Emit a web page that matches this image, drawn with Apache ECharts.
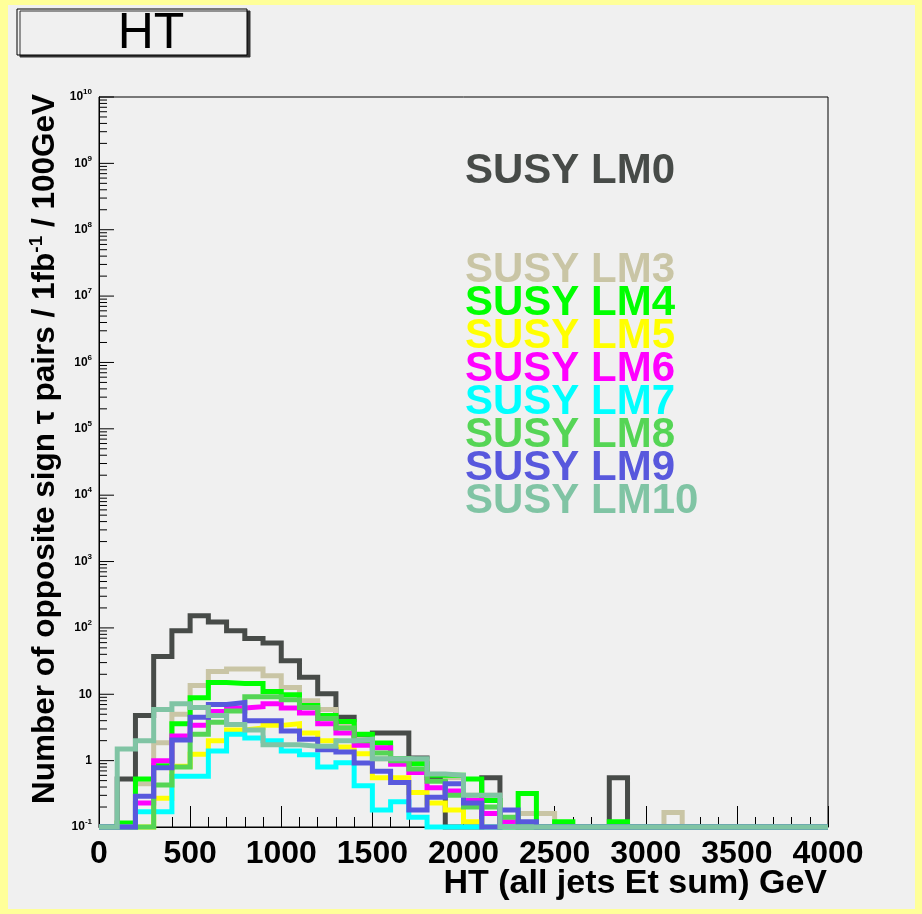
<!DOCTYPE html>
<html><head><meta charset="utf-8">
<script src="https://cdn.jsdelivr.net/npm/echarts@6/dist/echarts.min.js"></script>
<style>html,body{margin:0;padding:0;background:#ffff99}#c{width:922px;height:914px}</style>
</head><body><div id="c"></div>
<script>
// bin edges (GeV)
const binEdges = [0,100,200,300,400,500,600,700,800,900,1000,1100,1200,1300,1400,1500,1600,1700,1800,1900,2000,2100,2200,2300,2400,2500,2600,2700,2800,2900,3000,3100,3200,3300,3400,3500,3600,3700,3800,3900,4000];
const seriesNames = ['SUSY LM0','SUSY LM3','SUSY LM4','SUSY LM5','SUSY LM6','SUSY LM7','SUSY LM8','SUSY LM9','SUSY LM10'];
const seriesColors = ['#474b48','#c9c5a5','#00ff00','#ffff00','#ff00ff','#00ffff','#55d555','#5858dd','#80c4a4'];
const lm0 = [0.1,0.53,4.8,37,91,152,123,91,69,59, 32,18,10.2,4.5,2.4,2.6,2.6,1.1,0.55,0.1, 0.1,0.55,0.1,0.1,0.1,0.1,0.1,0.1,0.55,0.1, 0.1,0.1,0.1,0.1,0.1,0.1,0.1,0.1,0.1,0.1];
const lm3 = [0.1,0.1,0.45,1.86,5.0,13.5,22,24,24,19, 12.6,8.0,5.9,3.5,2.1,1.07,1.07,1.0,0.62,0.55, 0.3,0.3,0.1,0.16,0.16,0.1,0.1,0.1,0.1,0.1, 0.1,0.165,0.1,0.1,0.1,0.1,0.1,0.1,0.1,0.1];
const lm4 = [0.1,0.115,0.53,0.84,3.6,8.9,15,14.5,14.5,11, 9.8,6.8,4.8,3.9,2.5,1.85,1.07,0.9,0.6,0.6, 0.53,0.25,0.1,0.32,0.1,0.12,0.1,0.1,0.12,0.1, 0.1,0.1,0.1,0.1,0.1,0.1,0.1,0.1,0.1,0.1];
const lm5 = [0.1,0.1,0.1,0.27,0.82,1.25,2.0,2.9,3.1,3.4, 3.6,2.6,2.0,1.6,1.27,0.55,0.55,0.33,0.23,0.18, 0.12,0.1,0.1,0.1,0.1,0.1,0.1,0.1,0.1,0.1, 0.1,0.1,0.1,0.1,0.1,0.1,0.1,0.1,0.1,0.1];
const lm6 = [0.1,0.1,0.23,1.0,2.35,3.4,5.5,6.2,6.5,7.2, 6.2,5.2,3.6,2.6,1.7,1.57,0.88,0.66,0.39,0.35, 0.25,0.16,0.12,0.1,0.1,0.1,0.1,0.1,0.1,0.1, 0.1,0.1,0.1,0.1,0.1,0.1,0.1,0.1,0.1,0.1];
const lm7 = [0.1,0.1,0.17,0.17,0.58,0.58,1.4,2.5,2.2,2.0, 1.4,1.23,0.8,0.93,0.42,0.18,0.24,0.14,0.1,0.1, 0.1,0.1,0.1,0.1,0.1,0.1,0.1,0.1,0.1,0.1, 0.1,0.1,0.1,0.1,0.1,0.1,0.1,0.1,0.1,0.1];
const lm8 = [0.1,0.1,0.1,0.43,0.8,2.5,3.8,5.6,9.2,9.2, 8.3,6.3,4.3,3.1,2.0,1.3,1.0,0.75,0.49,0.3, 0.2,0.2,0.14,0.1,0.1,0.1,0.1,0.1,0.1,0.1, 0.1,0.1,0.1,0.1,0.1,0.1,0.1,0.1,0.1,0.1];
const lm9 = [0.1,0.1,0.29,0.78,2.05,4.5,7.0,7.5,4.0,4.0, 2.8,2.1,1.46,1.35,0.92,0.69,0.47,0.18,0.28,0.45, 0.23,0.1,0.18,0.12,0.1,0.1,0.1,0.1,0.1,0.1, 0.1,0.1,0.1,0.1,0.1,0.1,0.1,0.1,0.1,0.1];
const lm10 = [0.1,1.5,2.0,5.9,7.2,6.3,4.8,3.5,2.9,1.74, 1.74,1.65,1.65,2.0,2.1,1.07,1.07,1.07,0.63,0.6, 0.3,0.3,0.1,0.1,0.1,0.1,0.1,0.1,0.1,0.1, 0.1,0.1,0.1,0.1,0.1,0.1,0.1,0.1,0.1,0.1];
const seriesValues = [lm0,lm3,lm4,lm5,lm6,lm7,lm8,lm9,lm10];
const yDecades = [-1,0,1,2,3,4,5,6,7,8,9,10];
const xTickValues = [0,500,1000,1500,2000,2500,3000,3500,4000];
const xTitle = 'HT (all jets Et sum) GeV';
const plotTitle = 'HT';

const FONT = "'Liberation Sans', Arial, Helvetica, sans-serif";

function histData(vals){
  const d = vals.map((v,i)=>[binEdges[i], v]);
  d.push([binEdges[binEdges.length-1], vals[vals.length-1]]);
  return d;
}
function decadeLabel(e){
  if(e===0) return '{b|1}';
  if(e===1) return '{b|10}';
  return '{b|10}{s|'+e+'}';
}
// log minor tick positions (2..9 x 10^d)
const minorY = [];
yDecades.slice(0,-1).forEach(d=>{ for(let m=2;m<=9;m++) minorY.push([0, m*Math.pow(10,d)]); });
const majorY = yDecades.map(e=>[0, Math.pow(10,e), e]);

const series = seriesValues.map((vals,i)=>({
  name: seriesNames[i], type:'line', step:'end', data: histData(vals),
  showSymbol:false, symbol:'none', clip:false, silent:true,
  lineStyle:{color:seriesColors[i], width:5, cap:'butt', join:'miter'},
  itemStyle:{color:seriesColors[i]}, z: 2 + i*0.01
}));
series.push({
  type:'custom', name:'minorTicks', silent:true, clip:false, data:minorY,
  encode:{x:0,y:1}, z:1,
  renderItem:(params, api)=>{
    const p = api.coord([api.value(0), api.value(1)]);
    return {type:'line', shape:{x1:p[0], y1:p[1], x2:p[0]+8, y2:p[1]}, style:{stroke:'#000', lineWidth:1}};
  }
});
series.push({
  type:'custom', name:'majorTicks', silent:true, clip:false, data:majorY,
  encode:{x:0,y:1}, z:1,
  renderItem:(params, api)=>{
    const p = api.coord([api.value(0), api.value(1)]);
    const e = api.value(2);
    return {type:'group', children:[
      {type:'line', shape:{x1:p[0], y1:p[1], x2:p[0]+15, y2:p[1]}, style:{stroke:'#000', lineWidth:1}},
      {type:'text', style:{text:decadeLabel(e), x:p[0]-7, y:p[1], align:'right', verticalAlign:'middle', fill:'#000',
        rich:{
          b:{fontSize:12, fontWeight:'bold', fill:'#000', fontFamily:FONT},
          s:{fontSize:8, fontWeight:'bold', fill:'#000', fontFamily:FONT, padding:[0,0,10,0]}
        }}}
    ]};
  }
});

const chart = echarts.init(document.getElementById('c'), null, {renderer:'canvas'});
chart.setOption({
  animation:false,
  backgroundColor:'#ffff99',
  graphic:[
    {type:'rect', z:-100, shape:{x:8,y:5,width:907,height:904}, style:{fill:'#f0f0f0'}},
    {type:'rect', z:10, shape:{x:17,y:9,width:230,height:46},
      style:{fill:'#f0f0f0', stroke:'#000', lineWidth:1, shadowColor:'#333', shadowOffsetX:3, shadowOffsetY:2, shadowBlur:0}},
    {type:'text', z:11, style:{text:plotTitle, x:151, y:34, align:'center', verticalAlign:'middle', fill:'#000',
      fontSize:50, fontFamily:FONT, fontWeight:'normal'}},
    {type:'text', z:11, style:{text:xTitle, x:827, y:884, align:'right', verticalAlign:'middle', fill:'#000',
      fontSize:34, fontFamily:FONT, fontWeight:'bold'}}
  ],
  legend:[
    {data:[{name:seriesNames[0], textStyle:{color:seriesColors[0]}}],
     left:460, top:150, orient:'vertical', icon:'none', itemWidth:0, itemHeight:0, padding:0, itemGap:0,
     selectedMode:false, textStyle:{fontSize:42, fontWeight:'bold', fontFamily:FONT, lineHeight:33}},
    {data:seriesNames.slice(1).map((n,i)=>({name:n, textStyle:{color:seriesColors[i+1]}})),
     left:460, top:249, orient:'vertical', icon:'none', itemWidth:0, itemHeight:0, padding:0, itemGap:-9,
     selectedMode:false, textStyle:{fontSize:42, fontWeight:'bold', fontFamily:FONT, lineHeight:33}}
  ],
  grid:{left:99, right:94, top:97, bottom:87, show:true, borderColor:'#000', borderWidth:1, backgroundColor:'transparent', containLabel:false, outerBoundsMode:'none'},
  xAxis:{
    type:'value', min:0, max:4000, interval:500,
    axisLine:{lineStyle:{color:'#000', width:1}},
    axisTick:{inside:true, length:21, lineStyle:{color:'#000', width:1}},
    minorTick:{show:true, splitNumber:5, length:10, lineStyle:{color:'#000', width:1}},
    splitLine:{show:false},
    axisLabel:{fontSize:32, fontWeight:'bold', color:'#000', fontFamily:FONT, margin:11,
      formatter:(v)=> xTickValues.includes(v) ? String(v) : ''}
  },
  yAxis:{
    type:'log', logBase:10, min:0.1, max:1e10,
    axisLine:{lineStyle:{color:'#000', width:1}},
    axisTick:{show:false}, axisLabel:{show:false},
    splitLine:{show:false}, minorTick:{show:false},
    name:'{a|Number of opposite sign τ pairs / 1fb}{s|-1}{a| / 100GeV}',
    nameLocation:'middle', nameGap:35,
    nameTextStyle:{fontFamily:FONT, color:'#000', padding:[0,0,0,26],
      rich:{
        a:{fontSize:31.5, fontWeight:'bold', color:'#000', fontFamily:FONT},
        s:{fontSize:19, fontWeight:'bold', color:'#000', fontFamily:FONT, padding:[0,0,18,0]}
      }
    }
  },
  series: series
});
</script></body></html>
